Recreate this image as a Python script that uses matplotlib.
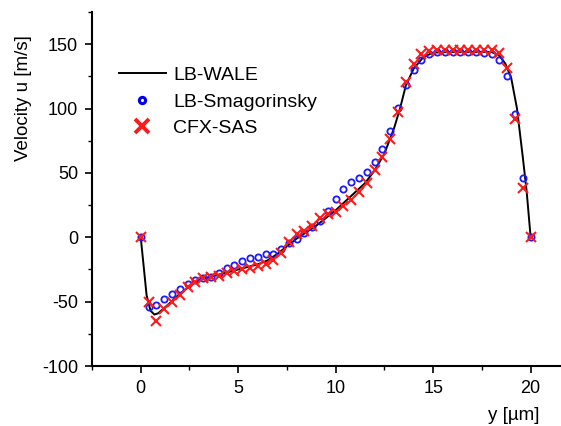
import matplotlib
matplotlib.use("Agg")
import matplotlib.pyplot as plt
from matplotlib.ticker import MultipleLocator

plt.rcParams['font.family'] = ['Liberation Sans', 'DejaVu Sans']
plt.rcParams['axes.unicode_minus'] = False

# LB-WALE (continuous line)
wale_x = [0.0, 0.3, 0.5, 0.7, 0.9, 1.2, 1.5, 2.0, 2.5, 3.0, 3.5, 4.0, 5.0, 6.0, 6.5, 7.0,
          7.5, 8.0, 8.5, 9.0, 9.5, 10.0, 10.5, 11.0, 11.5, 12.0, 12.5, 13.0, 13.3, 13.6,
          14.0, 14.5, 15.0, 16.0, 17.0, 18.0, 18.4, 18.7, 19.0, 19.3, 19.6, 19.8, 20.0]
wale_u = [0.0, -45, -57, -60, -59, -55, -51, -44, -38, -33, -31, -29, -25, -21, -18, -13,
          -7, -1, 4, 9, 15, 21, 28, 35, 42, 52, 65, 85, 100, 118,
          131, 140, 143.5, 144, 144, 144, 141, 135, 124, 100, 62, 35, 0.0]

# LB-Smagorinsky (open circles)
smag_x = [0.0, 0.4, 0.8, 1.2, 1.6, 2.0, 2.4, 2.8, 3.2, 3.6, 4.0, 4.4, 4.8, 5.2, 5.6, 6.0,
          6.4, 6.8, 7.2, 7.6, 8.0, 8.4, 8.8, 9.2, 9.6, 10.0, 10.4, 10.8, 11.2, 11.6, 12.0,
          12.4, 12.8, 13.2, 13.6, 14.0, 14.4, 14.8, 15.2, 15.6, 16.0, 16.4, 16.8, 17.2,
          17.6, 18.0, 18.4, 18.8, 19.2, 19.6, 20.0]
smag_u = [0.0, -54.5, -52.7, -48, -43.7, -40, -36, -33.3, -31.3, -30.5, -27.6, -23.8,
          -21.2, -18.3, -16.3, -15, -13.2, -12.7, -9, -4.7, -1.5, 3.4, 8, 13, 20.7, 29.5,
          37.5, 42.6, 45.7, 50.4, 58.7, 68.7, 82.7, 100.5, 118, 130, 138, 142, 143.7,
          143.7, 143.7, 143.7, 143.7, 143.7, 143, 142, 138, 125.5, 95.6, 45.7, 0.0]

# CFX-SAS (crosses)
cfx_x = [0.0, 0.4, 0.8, 1.2, 1.6, 2.0, 2.4, 2.8, 3.2, 3.6, 4.0, 4.4, 4.8, 5.2, 5.6, 6.0,
         6.4, 6.8, 7.2, 7.6, 8.0, 8.4, 8.8, 9.2, 9.6, 10.0, 10.4, 10.8, 11.2, 11.6, 12.0,
         12.4, 12.8, 13.2, 13.6, 14.0, 14.4, 14.8, 15.2, 15.6, 16.0, 16.4, 16.8, 17.2,
         17.6, 18.0, 18.4, 18.8, 19.2, 19.6, 20.0]
cfx_u = [0.0, -50, -65, -56, -50, -45, -39, -35, -32, -31, -30, -28, -26.5, -25, -23.5,
         -22.5, -20.5, -17.5, -12, -3.5, 2.5, 5, 9, 15, 18, 20, 24, 29, 35, 42, 52, 62,
         76, 97, 121, 135, 142.5, 145, 145.5, 145.5, 145.5, 145.5, 145.5, 145.5, 145.5,
         145.5, 143, 131.5, 92, 38, 0.0]

xticks = [0, 5, 10, 15, 20]
yticks = [-100, -50, 0, 50, 100, 150]

fig = plt.figure(figsize=(5.61, 4.26), dpi=100)
ax = fig.add_axes([0.164, 0.1408, 0.834, 0.831])

ax.plot(wale_x, wale_u, color='black', lw=1.4, label='LB-WALE', zorder=2)
ax.plot(smag_x, smag_u, ls='none', marker='o', ms=4.5, mfc='none', mec='#1a1aff',
        mew=1.3, label='LB-Smagorinsky', zorder=3)
ax.plot(cfx_x, cfx_u, ls='none', marker='x', ms=7, mec='#ff1a1a', mew=1.5,
        label='CFX-SAS', zorder=4)

ax.set_xlim(-2.5, 21.5)
ax.set_ylim(-100, 175)
ax.set_xticks(xticks)
ax.set_yticks(yticks)
ax.xaxis.set_minor_locator(MultipleLocator(2.5))
ax.yaxis.set_minor_locator(MultipleLocator(25))
for s in ['top', 'right']:
    ax.spines[s].set_visible(False)
for s in ['left', 'bottom']:
    ax.spines[s].set_linewidth(1.5)
ax.tick_params(which='major', direction='out', length=5, width=1.2, labelsize=13, pad=5)
ax.tick_params(which='minor', direction='out', length=3, width=1.0)

fig.text(24 / 561, 1 - 98 / 426, 'Velocity u [m/s]', rotation=90, ha='center',
         va='center', fontsize=13.5)
fig.text(540 / 561, 1 - 416 / 426, 'y [\u00b5m]', ha='right', va='center', fontsize=13.5)

leg = ax.legend(loc='upper left', bbox_to_anchor=(0.02, 0.895), frameon=False,
                fontsize=14, handlelength=2.4, handletextpad=0.4, labelspacing=0.45)
h = leg.legend_handles
h[1].set_markersize(4.5)
h[1].set_markeredgewidth(2.2)
h[1].set_markeredgecolor('#0000ee')
h[2].set_markersize(9.5)
h[2].set_markeredgewidth(2.8)

fig.savefig('out.png', dpi=100)
